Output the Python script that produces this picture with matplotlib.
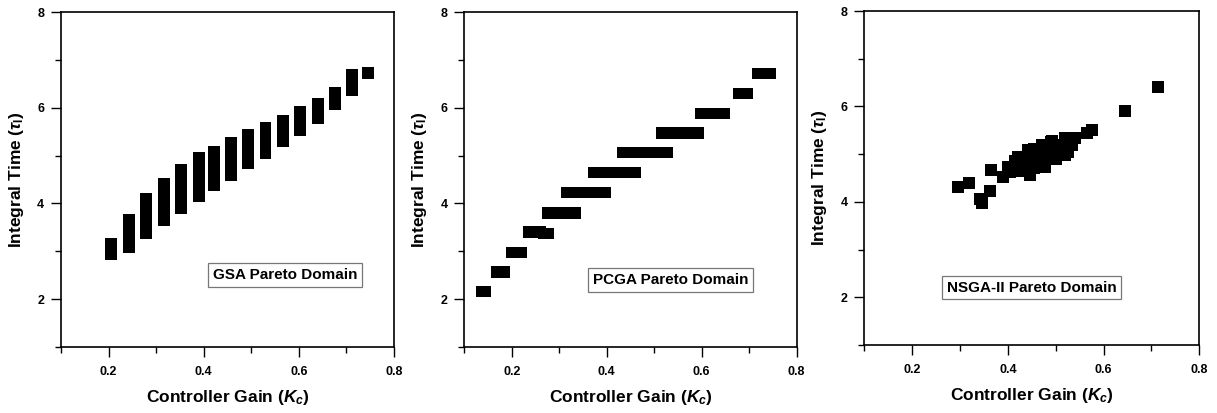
import matplotlib
matplotlib.use('Agg')
import matplotlib.pyplot as plt
from matplotlib.ticker import MultipleLocator

plt.rcParams['font.family'] = ['Liberation Sans', 'DejaVu Sans']
plt.rcParams['font.weight'] = 'bold'
plt.rcParams['mathtext.fontset'] = 'custom'
plt.rcParams['mathtext.rm'] = 'Liberation Sans:bold'
plt.rcParams['mathtext.it'] = 'Liberation Sans:italic:bold'
plt.rcParams['mathtext.bf'] = 'Liberation Sans:bold'

# GSA: vertical bands of (Kc, tau_I) solutions
gsa_kc = [0.205, 0.243, 0.279, 0.316, 0.353, 0.390, 0.422, 0.458,
          0.493, 0.530, 0.567, 0.603, 0.640, 0.676, 0.711, 0.745]
gsa_ti_low = [2.82, 2.97, 3.26, 3.53, 3.77, 4.02, 4.27, 4.47,
              4.72, 4.92, 5.17, 5.41, 5.65, 5.95, 6.24, 6.59]
gsa_ti_high = [3.27, 3.77, 4.22, 4.53, 4.82, 5.07, 5.21, 5.39,
               5.56, 5.70, 5.84, 6.04, 6.20, 6.44, 6.80, 6.86]

# PCGA: horizontal bands
pcga_ti = [2.16, 2.57, 2.97, 3.40, 3.37, 3.80, 4.23, 4.65, 5.06, 5.47, 5.88, 6.30, 6.71]
pcga_kc_low = [0.124, 0.156, 0.188, 0.224, 0.255, 0.263, 0.303, 0.360,
               0.422, 0.503, 0.586, 0.667, 0.707]
pcga_kc_high = [0.156, 0.197, 0.232, 0.273, 0.289, 0.345, 0.408, 0.473,
                0.539, 0.604, 0.660, 0.709, 0.756]

# NSGA-II: individual Pareto points
nsga_kc = [0.295, 0.319, 0.341, 0.345, 0.362, 0.365, 0.390, 0.400, 0.414,
           0.422, 0.428, 0.443, 0.446, 0.455, 0.464, 0.471, 0.478, 0.492,
           0.499, 0.506, 0.520, 0.520, 0.534, 0.541, 0.565, 0.575, 0.645, 0.714,
           0.430, 0.450, 0.460, 0.480, 0.490, 0.500, 0.510, 0.520, 0.480, 0.460,
           0.440, 0.430, 0.510, 0.500, 0.470, 0.455, 0.415, 0.530, 0.490, 0.405,
           0.435, 0.470, 0.525]
nsga_ti = [4.32, 4.40, 4.05, 3.98, 4.22, 4.67, 4.53, 4.74, 4.67,
           4.95, 4.81, 5.09, 4.57, 4.70, 4.88, 5.20, 4.74, 5.27,
           4.95, 5.09, 5.34, 4.99, 5.20, 5.34, 5.44, 5.50, 5.90, 6.40,
           4.85, 4.95, 5.05, 5.10, 5.15, 5.20, 5.15, 5.20, 4.95, 4.80,
           4.75, 4.65, 5.05, 4.90, 4.90, 5.10, 4.85, 5.30, 5.25, 4.62,
           4.95, 5.00, 5.05]

labels = ['GSA Pareto Domain', 'PCGA Pareto Domain', 'NSGA-II Pareto Domain']
positions = [[0.0501, 0.1598, 0.2736, 0.8111],
             [0.3815, 0.1598, 0.2731, 0.8111],
             [0.7102, 0.1646, 0.2753, 0.8087]]
label_xy = [(0.673, 0.215), (0.62, 0.20), (0.50, 0.172)]


def format_axes(ax):
    ax.set_xlim(0.1, 0.8)
    ax.set_ylim(1, 8)
    ax.xaxis.set_major_locator(MultipleLocator(0.2))
    ax.xaxis.set_minor_locator(MultipleLocator(0.1))
    ax.yaxis.set_major_locator(MultipleLocator(2))
    ax.yaxis.set_minor_locator(MultipleLocator(1))
    ax.xaxis.set_major_formatter(plt.FuncFormatter(lambda v, p: '%.1f' % v))
    ax.tick_params(which='major', direction='out', length=7, width=1,
                   labelsize=9, pad=5)
    ax.tick_params(which='minor', direction='out', length=4, width=1)
    ax.tick_params(axis='x', which='major', pad=7)
    for spine in ax.spines.values():
        spine.set_linewidth(1.2)
    ax.set_xlabel(r'Controller Gain ($K_c$)', fontsize=12.5, fontweight='bold', labelpad=7)
    ax.set_ylabel(r'Integral Time ($\tau_{\mathrm{I}}$)', fontsize=12.5, fontweight='bold', labelpad=8)
    return ax


fig = plt.figure(figsize=(12.17, 4.13), dpi=100)
axes = [fig.add_axes(p) for p in positions]

heights = [h - l for l, h in zip(gsa_ti_low, gsa_ti_high)]
axes[0].bar(gsa_kc, heights, bottom=gsa_ti_low, width=0.025, color='black')

widths = [h - l for l, h in zip(pcga_kc_low, pcga_kc_high)]
axes[1].barh(pcga_ti, widths, left=pcga_kc_low, height=0.24, color='black')

axes[2].scatter(nsga_kc, nsga_ti, marker='s', s=80, color='black', linewidths=0)

for ax, text, (tx, ty) in zip(axes, labels, label_xy):
    format_axes(ax)
    ax.text(tx, ty, text, transform=ax.transAxes, ha='center', va='center',
            fontsize=11, fontweight='bold',
            bbox=dict(boxstyle='square,pad=0.3', fc='white', ec='#777777', lw=0.9))

fig.savefig('out.png', dpi=100)
plt.close(fig)
